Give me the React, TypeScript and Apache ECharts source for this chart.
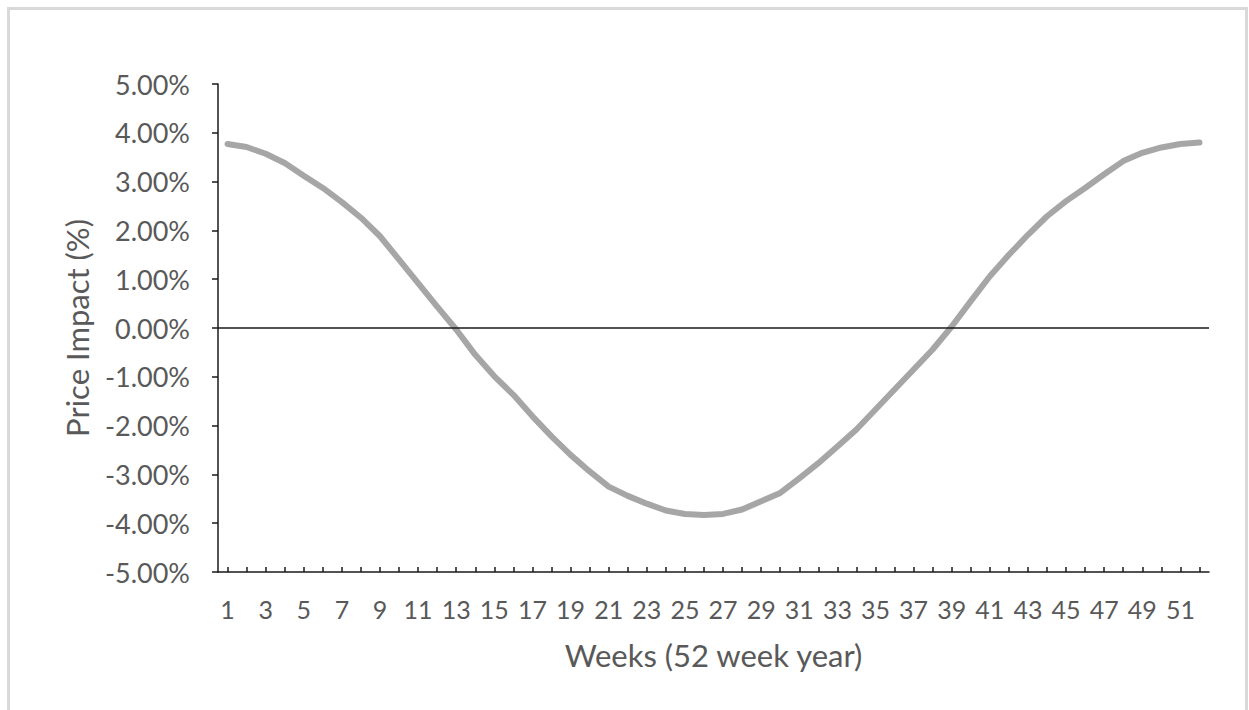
import React, { useEffect, useRef } from "react";
import * as echarts from "echarts";

const weeks: string[] = Array.from({ length: 52 }, (_, i) => String(i + 1));

const priceImpact: number[] = [
  3.77, 3.71, 3.57, 3.38, 3.12, 2.87, 2.58, 2.26, 1.88, 1.40,
  0.92, 0.44, -0.03, -0.55, -0.99, -1.37, -1.81, -2.22, -2.60, -2.94,
  -3.25, -3.44, -3.60, -3.74, -3.81, -3.83, -3.81, -3.72, -3.55, -3.38,
  -3.08, -2.77, -2.43, -2.08, -1.67, -1.26, -0.85, -0.44, 0.03, 0.55,
  1.06, 1.50, 1.91, 2.29, 2.60, 2.87, 3.15, 3.42, 3.59, 3.70,
  3.77, 3.80,
];

const yMin = -5;
const yMax = 5;
const yStep = 1;

const FONT = "Lato, 'Open Sans', sans-serif";
const TEXT = "#595959";
const AXIS = "#1a1a1a";

export default function App() {
  const ref = useRef<HTMLDivElement>(null);

  useEffect(() => {
    if (!ref.current) return;
    const chart = echarts.init(ref.current, null, { renderer: "svg" });
    chart.setOption({
      animation: false,
      backgroundColor: "#ffffff",
      graphic: [
        {
          type: "rect",
          shape: { x: 8.5, y: 8.5, width: 1238, height: 740 },
          style: { fill: "none", stroke: "#d9d9d9", lineWidth: 3 },
          silent: true,
        },
      ],
      grid: { left: 218, right: 40, top: 84, bottom: 138, containLabel: false },
      xAxis: {
        type: "category",
        data: weeks,
        boundaryGap: true,
        name: "Weeks (52 week year)",
        nameLocation: "middle",
        nameGap: 67,
        nameTextStyle: { color: TEXT, fontFamily: FONT, fontSize: 31 },
        axisLine: { show: true, onZero: false, lineStyle: { color: AXIS, width: 1.5 } },
        axisTick: {
          show: true,
          inside: true,
          alignWithLabel: true,
          interval: 0,
          length: 5,
          lineStyle: { color: AXIS, width: 1.5 },
        },
        axisLabel: {
          interval: 1,
          margin: 24,
          color: TEXT,
          fontFamily: FONT,
          fontSize: 25,
        },
        splitLine: { show: false },
      },
      yAxis: {
        type: "value",
        min: yMin,
        max: yMax,
        interval: yStep,
        name: "Price Impact (%)",
        nameLocation: "middle",
        nameRotate: 90,
        nameGap: 126,
        nameTextStyle: { color: TEXT, fontFamily: FONT, fontSize: 31 },
        axisLine: { show: true, lineStyle: { color: AXIS, width: 1.5 } },
        axisTick: { show: true, length: 6, lineStyle: { color: AXIS, width: 1.5 } },
        axisLabel: {
          margin: 28,
          color: TEXT,
          fontFamily: FONT,
          fontSize: 27,
          formatter: (v: number) => v.toFixed(2) + "%",
        },
        splitLine: { show: false },
      },
      series: [
        {
          type: "line",
          data: priceImpact,
          smooth: false,
          showSymbol: false,
          symbol: "none",
          lineStyle: { color: "#a6a6a6", width: 6, cap: "round", join: "round" },
          markLine: {
            silent: true,
            symbol: "none",
            label: { show: false },
            lineStyle: { color: AXIS, width: 1.5, type: "solid" },
            data: [{ yAxis: 0 }],
          },
        },
      ],
    });
    return () => chart.dispose();
  }, []);

  return (
    <div
      ref={ref}
      style={{ position: "fixed", left: 0, top: 0, width: 1249, height: 710 }}
    />
  );
}
